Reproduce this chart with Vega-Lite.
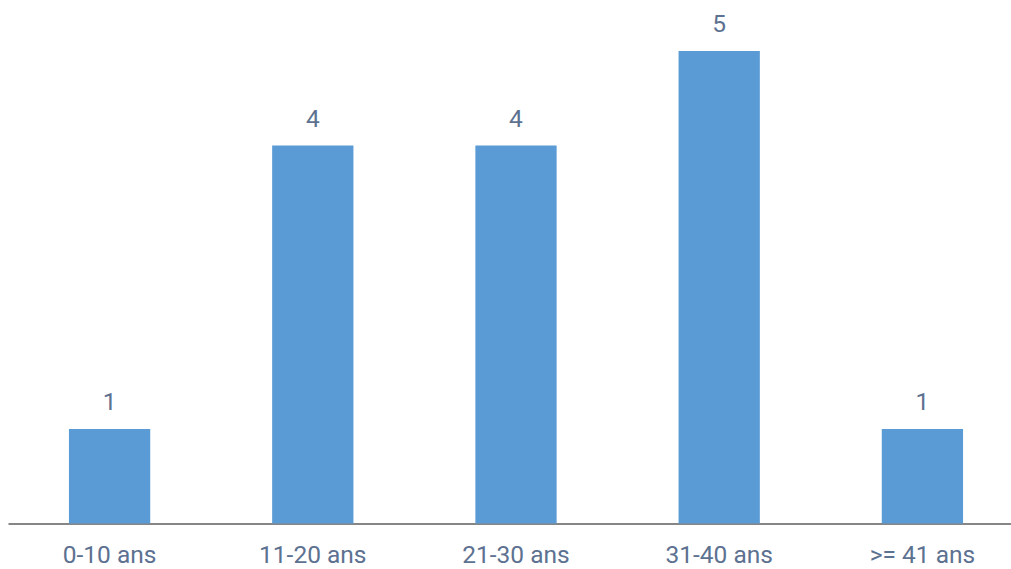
{
  "$schema": "https://vega.github.io/schema/vega-lite/v6.json",
  "autosize": {"type": "none"},
  "width": 1003,
  "height": 472.5,
  "padding": {"left": 8, "top": 51, "right": 0, "bottom": 45.5},
  "background": "white",
  "data": {
    "values": [
      {"tranche": "0-10 ans", "nombre": 1},
      {"tranche": "11-20 ans", "nombre": 4},
      {"tranche": "21-30 ans", "nombre": 4},
      {"tranche": "31-40 ans", "nombre": 5},
      {"tranche": ">= 41 ans", "nombre": 1}
    ]
  },
  "config": {
    "view": {"stroke": null},
    "font": "Roboto, sans-serif"
  },
  "encoding": {
    "x": {
      "field": "tranche",
      "type": "nominal",
      "sort": null,
      "scale": {"range": [0, 1016], "paddingInner": 0.6, "paddingOuter": 0.3},
      "axis": {
        "title": null,
        "ticks": false,
        "labelAngle": 0,
        "labelFont": "Roboto, sans-serif",
        "labelFontSize": 24.5,
        "labelColor": "#5d7191",
        "labelBaseline": "alphabetic",
        "labelPadding": 39,
        "domainColor": "#868686",
        "domainWidth": 2
      }
    },
    "y": {
      "field": "nombre",
      "type": "quantitative",
      "scale": {"domain": [0, 5], "nice": false},
      "axis": null
    }
  },
  "layer": [
    {"mark": {"type": "bar", "color": "#5b9bd5"}},
    {
      "mark": {
        "type": "text",
        "baseline": "alphabetic",
        "dy": -19,
        "fontSize": 24.5,
        "color": "#5d7191"
      },
      "encoding": {"text": {"field": "nombre", "type": "quantitative"}}
    }
  ]
}
